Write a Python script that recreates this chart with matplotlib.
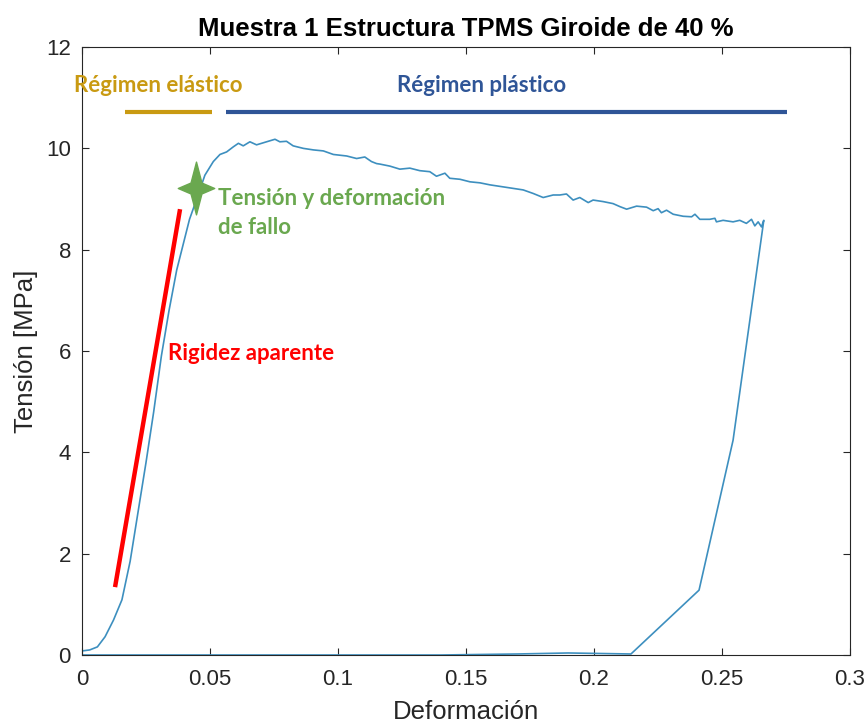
import numpy as np
import matplotlib
matplotlib.use("Agg")
import matplotlib.pyplot as plt
from matplotlib.path import Path

# stress-strain curve (loading, plastic plateau, unloading)
strain = [0.0, 0.003, 0.006, 0.009, 0.0123, 0.0156, 0.0188, 0.0215, 0.025, 0.028,
          0.031, 0.034, 0.037, 0.0395, 0.042, 0.0448, 0.048, 0.0513, 0.0539, 0.0565,
          0.0591, 0.0611, 0.0630, 0.0656, 0.0682, 0.0721, 0.0754, 0.0773, 0.0799, 0.0825,
          0.0865, 0.0904, 0.0943, 0.0982, 0.1034, 0.1073, 0.1105, 0.1131, 0.1151, 0.1164,
          0.1203, 0.1242, 0.1281, 0.1320, 0.1359, 0.1385, 0.1418, 0.1437, 0.1477, 0.1516,
          0.1555, 0.1594, 0.1646, 0.1685, 0.1724, 0.1763, 0.1802, 0.1841, 0.1867, 0.1893,
          0.1919, 0.1945, 0.1978, 0.1997, 0.2036, 0.2075, 0.2102, 0.2128, 0.2167, 0.2206,
          0.2232, 0.2251, 0.2264, 0.2284, 0.2310, 0.2349, 0.2382, 0.2395, 0.2414, 0.2453,
          0.2473, 0.2479, 0.2505, 0.2544, 0.2570, 0.2596, 0.2616, 0.2629, 0.2642, 0.2655,
          0.2664,
          0.2544, 0.2411, 0.2145, 0.19, 0.17, 0.14, 0.0]
stress = [0.08, 0.10, 0.16, 0.36, 0.69, 1.09, 1.85, 2.7, 3.8, 4.8,
          5.9, 6.8, 7.6, 8.1, 8.6, 9.0, 9.47, 9.74, 9.88, 9.93,
          10.03, 10.10, 10.05, 10.13, 10.07, 10.13, 10.18, 10.13, 10.14, 10.05,
          10.00, 9.97, 9.95, 9.88, 9.85, 9.80, 9.83, 9.74, 9.70, 9.69,
          9.65, 9.59, 9.61, 9.56, 9.54, 9.45, 9.51, 9.41, 9.39, 9.34,
          9.32, 9.28, 9.24, 9.21, 9.18, 9.11, 9.03, 9.08, 9.08, 9.10,
          8.98, 9.03, 8.93, 8.98, 8.95, 8.91, 8.85, 8.80, 8.86, 8.84,
          8.77, 8.81, 8.73, 8.78, 8.70, 8.66, 8.65, 8.70, 8.60, 8.60,
          8.62, 8.55, 8.58, 8.55, 8.58, 8.52, 8.60, 8.47, 8.55, 8.45,
          8.58,
          4.24, 1.28, 0.02, 0.04, 0.02, 0.0, 0.0]

# apparent stiffness line
stiff_x = [0.0129, 0.0383]
stiff_y = [1.34, 8.8]

# failure point
fail_x, fail_y = 0.0445, 9.22

# regime bars
elastic_x = [0.0168, 0.0508]
plastic_x = [0.0563, 0.2754]
regime_y = 10.72

xticks = [0, 0.05, 0.1, 0.15, 0.2, 0.25, 0.3]
xticklabels = ["0", "0.05", "0.1", "0.15", "0.2", "0.25", "0.3"]
yticks = [0, 2, 4, 6, 8, 10, 12]

fig = plt.figure(figsize=(8.68, 7.24), dpi=100)
ax = fig.add_axes([0.0945, 0.0953, 0.8845, 0.8397])

ax.plot(strain, stress, color="#3d8fbf", lw=1.2)
ax.plot(stiff_x, stiff_y, color="#ff0000", lw=3.2, solid_capstyle="butt")

w = 0.3
star = Path([(0, 1.45), (w, w), (1, 0), (w, -w), (0, -1.45),
             (-w, -w), (-1, 0), (-w, w), (0, 1.45)],
            [Path.MOVETO] + [Path.LINETO] * 7 + [Path.CLOSEPOLY])
ax.plot([fail_x], [fail_y], marker=star, markersize=38, color="#6aa84f", mec="#6aa84f", ls="none")

ax.plot(elastic_x, [regime_y] * 2, color="#c99a12", lw=3, solid_capstyle="butt")
ax.plot(plastic_x, [regime_y] * 2, color="#2f5597", lw=3, solid_capstyle="butt")

note_font = ["Lato", "DejaVu Sans"]
ax.text(0.0297, 11.25, "Régimen elástico", color="#c99a12", fontsize=16, fontweight="bold",
        ha="center", va="center", family=note_font)
ax.text(0.1563, 11.25, "Régimen plástico", color="#2f5597", fontsize=16, fontweight="bold",
        ha="center", va="center", family=note_font)
ax.text(0.0531, 9.02, "Tensión y deformación", color="#6aa84f", fontsize=16, fontweight="bold",
        ha="left", va="center", family=note_font)
ax.text(0.0531, 8.43, "de fallo", color="#6aa84f", fontsize=16, fontweight="bold",
        ha="left", va="center", family=note_font)
ax.text(0.0336, 5.96, "Rigidez aparente", color="#ff0000", fontsize=16, fontweight="bold",
        ha="left", va="center", family=note_font)

ax.set_xlim(0, 0.3)
ax.set_ylim(0, 12)
ax.set_xticks(xticks)
ax.set_xticklabels(xticklabels)
ax.set_yticks(yticks)
ax.tick_params(direction="in", top=True, right=True, length=5, labelsize=16,
               colors="#262626")
ax.tick_params(axis="x", pad=10)
ax.tick_params(axis="y", pad=8)
for s in ax.spines.values():
    s.set_color("#262626")
    s.set_linewidth(0.8)

ax.set_xlabel("Deformación", fontsize=18.5, color="#262626", family="Liberation Sans",
              labelpad=7)
ax.set_ylabel("Tensión [MPa]", fontsize=18.5, color="#262626", family="Liberation Sans",
              labelpad=6)
ax.set_title("Muestra 1 Estructura TPMS Giroide de 40 %", fontsize=18.5, fontweight="bold",
             family="Liberation Sans", pad=8)
for lab in ax.get_xticklabels() + ax.get_yticklabels():
    lab.set_family("Liberation Sans")

fig.savefig("out.png", dpi=100)
